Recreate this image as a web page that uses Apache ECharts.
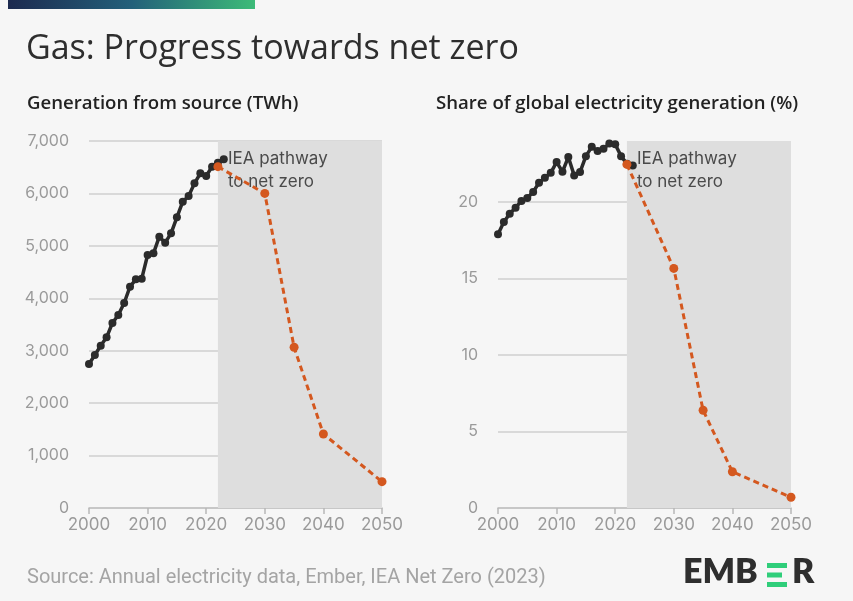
<!DOCTYPE html>
<html>
<head>
<meta charset="utf-8">
<script src="https://cdn.jsdelivr.net/npm/echarts@6/dist/echarts.min.js"></script>
<style>
  html, body { margin: 0; padding: 0; background: #f6f6f6; }
  #main { width: 853px; height: 601px; }
</style>
</head>
<body>
<div id="main"></div>
<script>
// historic years 2000-2023
var histYears = [2000,2001,2002,2003,2004,2005,2006,2007,2008,2009,2010,2011,
                 2012,2013,2014,2015,2016,2017,2018,2019,2020,2021,2022,2023];
var genTWh = [2746,2918,3096,3256,3528,3681,3910,4221,4362,4374,4825,4857,
              5175,5061,5239,5544,5843,5951,6192,6383,6332,6510,6586,6650];
var sharePct = [17.9,18.7,19.25,19.64,20.08,20.27,20.67,21.27,21.6,21.92,22.62,21.99,
                22.95,21.75,21.97,23.01,23.62,23.34,23.49,23.84,23.79,23.01,22.51,22.4];

// IEA net zero pathway
var ieaYears = [2022,2030,2035,2040,2050];
var ieaGen = [6510,6000,3065,1411,502];
var ieaShare = [22.47,15.67,6.39,2.37,0.70];

var xTicks = [2000,2010,2020,2030,2040,2050];

function pairs(xs, ys){
  return xs.map(function(x, i){ return [x, ys[i]]; });
}

var chart = echarts.init(document.getElementById('main'));
var font = 'Inter, "Noto Sans", sans-serif';
var headFont = '"Open Sans", sans-serif';
var black = '#2b2b2b';
var orange = '#d4581f';

function xAxisOpt(idx){
  return {
    type: 'value', gridIndex: idx, min: xTicks[0], max: xTicks[xTicks.length-1], interval: 10,
    axisLine: { show: true, lineStyle: { color: '#b8b8b8', width: 1.5 } },
    axisTick: { show: true, length: 6, lineStyle: { color: '#b8b8b8', width: 1.5 } },
    axisLabel: { color: '#9a9a9a', fontSize: 17, fontFamily: font, margin: 8,
                 formatter: function(v){ return String(v); } },
    splitLine: { show: false }
  };
}

function yAxisOpt(idx, max, interval, fmt){
  return {
    type: 'value', gridIndex: idx, min: 0, max: max, interval: interval,
    axisLine: { show: false }, axisTick: { show: false },
    axisLabel: { color: '#9a9a9a', fontSize: 16, fontFamily: font, margin: 20,
                 showMaxLabel: idx === 0, formatter: fmt },
    splitLine: { show: true, showMinLine: false, showMaxLine: idx === 0,
                 lineStyle: { color: '#cfcfcf', width: 1.5 } }
  };
}

function histSeries(idx, data, top){
  return {
    type: 'line', xAxisIndex: idx, yAxisIndex: idx, data: data, z: 3,
    symbol: 'circle', symbolSize: 8, showSymbol: true,
    lineStyle: { color: black, width: 3.5 }, itemStyle: { color: black },
    markArea: {
      silent: true,
      itemStyle: { color: '#dedede' },
      label: {
        show: true, position: 'insideTopLeft', distance: 6, offset: [4, 0],
        formatter: 'IEA pathway\nto net zero', color: '#4a4a4a',
        fontSize: 17, fontFamily: font, lineHeight: 23
      },
      data: [[{ xAxis: 2022, yAxis: top }, { xAxis: 2050, yAxis: 0 }]]
    }
  };
}

function ieaSeries(idx, data){
  return {
    type: 'line', xAxisIndex: idx, yAxisIndex: idx, data: data, z: 4,
    symbol: 'circle', symbolSize: 9, showSymbol: true,
    lineStyle: { color: orange, width: 3, type: [6, 4] }, itemStyle: { color: orange }
  };
}

var option = {
  backgroundColor: '#f6f6f6',
  animation: false,
  graphic: [
    { type: 'rect', left: 8, top: 0, shape: { width: 247, height: 9 },
      style: { fill: new echarts.graphic.LinearGradient(0, 0, 1, 0, [
        { offset: 0, color: '#1d2a4f' }, { offset: 0.5, color: '#23607a' }, { offset: 1, color: '#3dbb78' }]) } },
    { type: 'text', left: 26, top: 32,
      style: { text: 'Gas: Progress towards net zero', fill: '#2e2e2e', fontSize: 34, fontWeight: 500, fontFamily: headFont } },
    { type: 'text', left: 27, top: 94,
      style: { text: 'Generation from source (TWh)', fill: '#222', fontSize: 18.6, fontWeight: 600, fontFamily: headFont } },
    { type: 'text', left: 436, top: 94,
      style: { text: 'Share of global electricity generation (%)', fill: '#222', fontSize: 18.6, fontWeight: 600, fontFamily: headFont } },
    { type: 'text', left: 27, top: 568,
      style: { text: 'Source: Annual electricity data, Ember, IEA Net Zero (2023)', fill: '#a4a4a4', fontSize: 20, fontFamily: 'Roboto, sans-serif' } },
    { type: 'group', left: 683, top: 555, children: [
      { type: 'text', x: 0, y: 0,
        style: { text: 'EMB', fill: '#2e2e2e', fontSize: 34, fontWeight: 800, fontFamily: 'Lato, sans-serif' } },
      { type: 'rect', shape: { x: 84, y: 8, width: 20, height: 5 }, style: { fill: '#2fce7a' } },
      { type: 'rect', shape: { x: 84, y: 17.5, width: 15, height: 5 }, style: { fill: '#2fce7a' } },
      { type: 'rect', shape: { x: 84, y: 27, width: 20, height: 5 }, style: { fill: '#2fce7a' } },
      { type: 'text', x: 109, y: 0,
        style: { text: 'R', fill: '#2e2e2e', fontSize: 34, fontWeight: 800, fontFamily: 'Lato, sans-serif' } }
    ] }
  ],
  grid: [
    { left: 89, right: 471, top: 141, bottom: 93 },
    { left: 498, right: 62, top: 141, bottom: 93 }
  ],
  xAxis: [xAxisOpt(0), xAxisOpt(1)],
  yAxis: [
    yAxisOpt(0, 7000, 1000, function(v){ return v.toLocaleString('en-US'); }),
    yAxisOpt(1, 24, 5, function(v){ return String(v); })
  ],
  series: [
    histSeries(0, pairs(histYears, genTWh), 7000),
    ieaSeries(0, pairs(ieaYears, ieaGen)),
    histSeries(1, pairs(histYears, sharePct), 24),
    ieaSeries(1, pairs(ieaYears, ieaShare))
  ]
};

chart.setOption(option);
</script>
</body>
</html>
